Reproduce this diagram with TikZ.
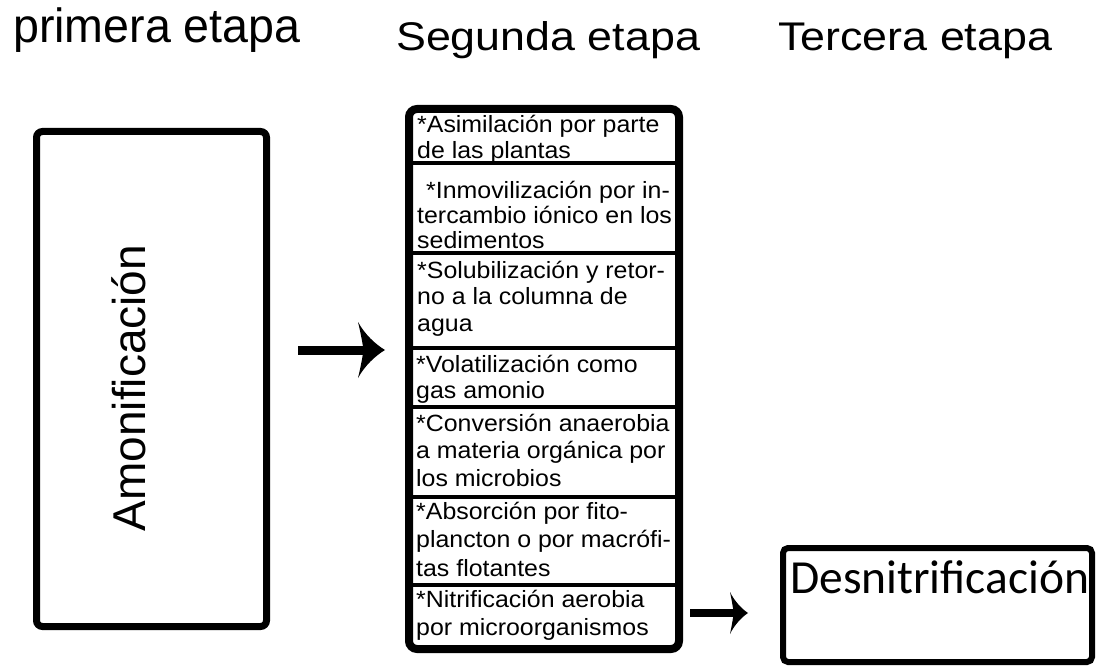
\documentclass[tikz,border=0pt]{standalone}
\usepackage{fontspec}
\setmainfont{Liberation Sans}
\newfontfamily\firstfont[FakeStretch=0.97]{Liberation Sans}
\newfontfamily\headfont[FakeStretch=1.12]{Liberation Sans}
\newfontfamily\cellfont[FakeStretch=1.06]{Liberation Sans}
\newfontfamily\calfont{Carlito}
\usetikzlibrary{arrows.meta}

\pgfdeclarearrow{
  name = Barb Head,
  parameters = {\the\pgfarrowlength,\the\pgfarrowwidth},
  setup code = {
    \pgfarrowssettipend{0pt}
    \pgfarrowssetlineend{-0.5\pgfarrowlength}
    \pgfarrowssetbackend{-\pgfarrowlength}
    \pgfarrowshullpoint{0pt}{0pt}
    \pgfarrowsupperhullpoint{-\pgfarrowlength}{.5\pgfarrowwidth}
  },
  drawing code = {
    \pgfpathmoveto{\pgfqpoint{0pt}{0pt}}
    \pgfpathcurveto{\pgfpoint{-.35\pgfarrowlength}{.1\pgfarrowwidth}}{\pgfpoint{-.75\pgfarrowlength}{.28\pgfarrowwidth}}{\pgfpoint{-\pgfarrowlength}{.5\pgfarrowwidth}}
    \pgfpathcurveto{\pgfpoint{-.9\pgfarrowlength}{.3\pgfarrowwidth}}{\pgfpoint{-.82\pgfarrowlength}{.1\pgfarrowwidth}}{\pgfpoint{-.8\pgfarrowlength}{0pt}}
    \pgfpathcurveto{\pgfpoint{-.82\pgfarrowlength}{-.1\pgfarrowwidth}}{\pgfpoint{-.9\pgfarrowlength}{-.3\pgfarrowwidth}}{\pgfpoint{-\pgfarrowlength}{-.5\pgfarrowwidth}}
    \pgfpathcurveto{\pgfpoint{-.75\pgfarrowlength}{-.28\pgfarrowwidth}}{\pgfpoint{-.35\pgfarrowlength}{-.1\pgfarrowwidth}}{\pgfpoint{0pt}{0pt}}
    \pgfpathclose
    \pgfusepathqfill
  },
  defaults = {length = 27pt, width = 56pt}
}

\tikzset{
  heading/.style={anchor=base west, inner sep=0pt},
  frame/.style={draw, inner sep=0pt, outer sep=0pt},
  divider/.style={line width=3.5pt},
  item/.style={anchor=base west, inner sep=0pt, font=\cellfont\fontsize{23.5}{27}\selectfont},
  bigarrow/.style={line width=9pt, -{Barb Head[length=27pt,width=56pt]}},
  smallarrow/.style={line width=8pt, -{Barb Head[length=18pt,width=42pt]}}
}

\begin{document}
\begin{tikzpicture}[x=1pt,y=-1pt]
\useasboundingbox (0,0) rectangle (1101,666);

% headings
\node[heading, font=\firstfont\fontsize{48}{52}\selectfont] (h1) at (13,43) {primera etapa};
\node[heading, font=\headfont\fontsize{40}{44}\selectfont] (h2) at (396,51) {Segunda etapa};
\node[heading, font=\headfont\fontsize{40}{44}\selectfont] (h3) at (778,51) {Tercera etapa};

% first stage
\node[frame, line width=7pt, rounded corners=6pt, minimum width=230pt, minimum height=495pt] (amon) at (151.5,379) {};
\node[rotate=90, anchor=base, inner sep=0pt, font=\fontsize{46}{50}\selectfont] (amontext) at (145,388) {Amonificación};

% second stage
\node[frame, line width=8pt, rounded corners=8pt, minimum width=270pt, minimum height=540pt] (mid) at (544,379) {};
\foreach \y in {163,253,348,407,497,585}
  \draw[divider] (409,\y) -- (679,\y);

\foreach \x/\y/\t [count=\i] in {
  417/133/{*Asimilación por parte},
  417/159/{de las plantas},
  426/198/{*Inmovilización por in-},
  417/223/{tercambio iónico en los},
  417/248/{sedimentos},
  417/278/{*Solubilización y retor-},
  417/304/{no a la columna de},
  417/331/{agua},
  416/372/{*Volatilización como},
  416/398/{gas amonio},
  416/431/{*Conversión anaerobia},
  416/458/{a materia orgánica por},
  416/486/{los microbios},
  416/519/{*Absorción por fito-},
  416/547/{plancton o por macrófi-},
  416/576/{tas flotantes},
  416/607/{*Nitrificación aerobia},
  416/635/{por microorganismos}}
  \node[item] (l\i) at (\x,\y) {\t};

% third stage
\node[frame, line width=6pt, rounded corners=5pt, minimum width=309pt, minimum height=114pt] (desn) at (937.5,605) {};
\node[anchor=base west, inner sep=0pt, font=\calfont\fontsize{47.5}{50}\selectfont] (desntext) at (790,593) {Desnitrificación};

% connectors
\coordinate (a1s) at (298,350);
\coordinate (a1e) at (385,350);
\draw[bigarrow] (a1s) -- (a1e);
\coordinate (a2s) at (690,613);
\coordinate (a2e) at (748,613);
\draw[smallarrow] (a2s) -- (a2e);
\end{tikzpicture}
\end{document}
